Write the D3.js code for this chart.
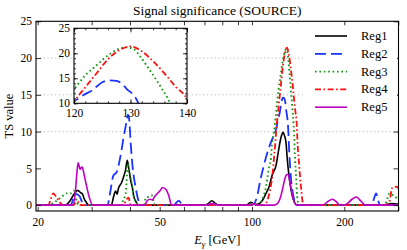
<!DOCTYPE html>
<html><head><meta charset="utf-8">
<script src="https://cdn.jsdelivr.net/npm/d3@7"></script>
<style>
body{margin:0;background:#fff;}
svg{display:block;font-family:"Liberation Serif","DejaVu Serif",serif;}
.axis path{display:none;}
.axis line{stroke:#000;stroke-width:0.8;}
.axis text{font-family:"Liberation Serif",serif;font-size:11.5px;fill:#000;}
</style></head>
<body><svg id="c" width="407" height="250"></svg>
<script>
// ---- data ----
const seriesNames = ["Reg1","Reg2","Reg3","Reg4","Reg5"];
const xTickValues = [20,30,40,50,60,70,80,90,100,200,300];
const xTickLabels = [20,50,100,200];
const yTickValues = [0,5,10,15,20,25];
const gridValues = [10,15,20];
const insetXTicks = [120,130,140];
const insetYTicks = [10,15,20,25];

const reg1 = [[19.5,0],[24.6,0],[25.5,0.6],[26.3,1.5],[27.0,2.0],[27.6,1.7],[28.0,1.5],[28.4,0.8],[28.8,0.4],[29.3,0],
 [34.8,0],[35.3,1.0],[35.9,1.9],[36.3,1.5],[36.7,2.3],[37.5,3.0],[38.1,3.8],[38.7,4.8],[39.2,6.1],[39.7,4.8],[40.2,3.4],[40.8,2.2],[41.1,1.3],[41.7,0.6],[42.0,0.3],[42.7,0],
 [70,0],[72,0.2],[74,0.6],[76,0.2],[78,0],[96,0],[99,0.4],[101,0.2],
 [103,0.1],[105.4,0.2],[108,0.6],[111.1,1.6],[113.7,2.5],[116.2,4.0],[119.8,5.4],[122.6,7.9],[124.5,9.3],[126.3,9.9],[127.5,9.5],[129.2,8.4],[130.2,6.5],[132.2,3.8],[134.2,2.0],[137.2,0.5],[140.4,0],
 [270,0],[285,0.2],[302,0.1]];
const reg2 = [[19.5,0],[25.6,0],[26.2,1.0],[26.8,1.5],[27.4,1.2],[28,0.3],[28.5,0],
 [33.8,0],[34.4,1.5],[35.3,4.0],[36.2,4.5],[37.3,6.8],[38.1,9.1],[39.0,11.4],[39.4,12.3],[39.8,11.5],[40.2,8.5],[40.8,5.2],[41.7,2.5],[42.7,0.5],[43.3,0],
 [55.5,0],[57.7,0.6],[59.5,0],
 [100,0],[103.1,0.7],[107,3.8],[111.1,6.5],[115.4,8.6],[118.5,9.7],[120,10.4],[121.6,11.6],[123.2,12.6],[125,14.2],[126.3,14.6],[127.5,14.5],[128.5,13.9],[129.4,12.8],[130.5,11.7],[131.2,10.5],[132.2,7.5],[133.5,4.5],[135.2,2.2],[137,0.9],[139.3,0.3],[141,0],
 [246,0],[250,0.9],[254,1.6],[258,0.6],[261,0],[302,0]];
const reg3 = [[19.5,0],[21.7,0],[22.5,0.3],[23.9,1.1],[24.8,1.6],[25.6,1.6],[26.2,2.0],[26.8,0.5],[27.2,0],
 [37.3,0],[38.1,0.8],[38.7,1.5],[39.0,3.2],[39.3,5.6],[39.9,4.5],[40.5,3.0],[41.1,1.3],[42,0.3],[42.7,0],
 [44.5,0],[45.0,1.0],[45.7,1.1],[47.1,1.3],[48.2,0],
 [97,0],[100,0.3],[103,0],
 [104,0],[107.8,0.7],[111.1,2.5],[113.7,5.2],[115.4,6.5],[116.2,8.2],[118,10.0],[120,12.8],[122,15.6],[124,17.6],[126,19.6],[128,20.9],[129.3,21.2],[130.6,20.8],[131.7,19.4],[133,17.3],[134.5,14.8],[135.5,13.0],[136.6,11.0],[137.2,9.5],[138.3,6.0],[139.3,3.8],[140.4,1.2],[142.5,0],
 [270,0],[274.5,0.5],[280.8,1.6],[287.2,1.4],[296,1.0],[302,0.6]];
const reg4 = [[19.5,0],[21.7,0],[22.0,0.7],[22.5,1.6],[23.0,1.1],[23.7,0.3],[24.2,0],
 [26.2,0],[26.6,0.4],[27.0,0.5],[27.4,0],
 [38,0],[39.0,0.8],[39.6,1.0],[40.2,0],
 [110,0],[112.5,0.8],[114.5,2.0],[116.5,4.0],[118.2,6.8],[119.2,8.6],[120,10.2],[121,11.8],[122,13.2],[124,16.0],[126,18.8],[128,20.6],[130,21.4],[132,20.4],[134,18.4],[136,16.0],[138,13.3],[140,10.8],[141,8.0],[142.5,5.5],[143.5,3.8],[144.7,2.2],[145.8,0.8],[147,0],
 [270,0],[280,0.4],[287.2,2.4],[296,2.5],[302,2.2]];
const reg5 = [[19.5,0],[26.0,0],[26.5,1.5],[26.8,4.0],[27.1,5.75],[27.5,4.9],[27.9,5.2],[28.4,4.0],[28.8,2.8],[29.5,1.0],[30.2,0],
 [44.7,0],[45.5,0.6],[46.5,0.8],[47.3,0.7],[48.2,1.2],[48.9,1.5],[50,1.9],[51.1,2.4],[52.5,2.1],[53.5,1.3],[54.7,0],
 [70,0],[74,0.2],[78,0],[98,0],[101,0.2],[104,0],
 [118,0],[121,0.2],[123.5,0.9],[125.5,2.0],[127.5,3.3],[129,4.0],[130.4,4.2],[132,3.8],[133.5,2.8],[135.2,1.5],[137.2,0.5],[139.3,0.05],[141,0],
 [168,0],[172.1,0.1],[177,0.5],[182.7,0.8],[188,0.5],[192.6,0.05],[200,0],[204.6,0.2],[212,0.8],[218.9,1.1],[226,0.6],[234.3,0],[302,0]];

const seriesData = [reg1,reg2,reg3,reg4,reg5];
const colors = ["#000000","#1a33ff","#119a11","#ff1010","#c000c0"];
const dashes = [null,"11,5","1.6,2.8","6,2.5,1.6,2.5",null];
const widths = [1.6,1.8,1.9,1.8,1.6];

// ---- chart ----
const svg = d3.select("#c");
const L=36,R=398.5,T=21.3,B=211;
const x = d3.scaleLog().domain([19.75,300.5]).range([L,R]);
const y = d3.scaleLinear().domain([-0.8,25]).range([B,T]);

svg.append("defs").append("clipPath").attr("id","clipMain")
  .append("rect").attr("x",L).attr("y",T).attr("width",R-L).attr("height",B-T);

// grid
svg.append("g").selectAll("line").data(gridValues).join("line")
  .attr("x1",L).attr("x2",R).attr("y1",d=>y(d)).attr("y2",d=>y(d))
  .attr("stroke","#a8a8a8").attr("stroke-width",0.8).attr("stroke-dasharray","1.2,2.6");

// lines
const line = d3.line().x(d=>x(d[0])).y(d=>y(d[1])).curve(d3.curveMonotoneX);
const gl = svg.append("g").attr("clip-path","url(#clipMain)");
seriesData.forEach((s,i)=>{
  gl.append("path").datum(s).attr("d",line).attr("fill","none")
    .attr("stroke",colors[i]).attr("stroke-width",widths[i])
    .attr("stroke-dasharray",dashes[i]).attr("stroke-linejoin","round");
});

// axes
const fmtX = d=> xTickLabels.includes(d)? String(d):"";
svg.append("g").attr("class","axis").attr("transform",`translate(0,${B})`)
  .call(d3.axisBottom(x).tickValues(xTickValues).tickFormat(fmtX).tickSize(-4).tickPadding(7));
svg.append("g").attr("class","axis").attr("transform",`translate(0,${T})`)
  .call(d3.axisTop(x).tickValues(xTickValues).tickFormat("").tickSize(-4));
svg.append("g").attr("class","axis").attr("transform",`translate(${L},0)`)
  .call(d3.axisLeft(y).tickValues(yTickValues).tickSize(-5).tickPadding(4));
svg.append("g").attr("class","axis").attr("transform",`translate(${R},0)`)
  .call(d3.axisRight(y).tickValues(yTickValues).tickFormat("").tickSize(-5));
svg.append("rect").attr("x",L).attr("y",T).attr("width",R-L).attr("height",B-T)
  .attr("fill","none").attr("stroke","#000").attr("stroke-width",1.1);

// legend
svg.append("rect").attr("x",303).attr("y",26).attr("width",94).attr("height",91).attr("fill","#fff");
const lg = svg.append("g");
seriesNames.forEach((n,i)=>{
  const yy = 36 + i*17.8;
  lg.append("line").attr("x1",315).attr("x2",347).attr("y1",yy).attr("y2",yy)
    .attr("stroke",colors[i]).attr("stroke-width",widths[i]).attr("stroke-dasharray",dashes[i]);
  lg.append("text").attr("x",361).attr("y",yy+4).attr("font-size","12.5px").text(n);
});

// inset
const IL=74,IR=187,IT=28.3,IB=103.3;
const xi = d3.scaleLinear().domain([120,140]).range([IL,IR]);
const yi = d3.scaleLinear().domain([10,25]).range([IB,IT]);
svg.append("rect").attr("x",IL).attr("y",IT).attr("width",IR-IL).attr("height",IB-IT).attr("fill","#fff");
svg.append("defs").append("clipPath").attr("id","clipInset")
  .append("rect").attr("x",IL).attr("y",IT).attr("width",IR-IL).attr("height",IB-IT);
const lineI = d3.line().x(d=>xi(d[0])).y(d=>yi(d[1])).curve(d3.curveMonotoneX);
const gi = svg.append("g").attr("clip-path","url(#clipInset)");
seriesData.forEach((s,i)=>{
  gi.append("path").datum(s.filter(d=>d[0]>=110&&d[0]<=150)).attr("d",lineI).attr("fill","none")
    .attr("stroke",colors[i]).attr("stroke-width",widths[i])
    .attr("stroke-dasharray",dashes[i]).attr("stroke-linejoin","round");
});
svg.append("g").attr("class","axis").attr("transform",`translate(0,${IB})`)
  .call(d3.axisBottom(xi).tickValues(insetXTicks).tickSize(-4).tickPadding(6));
svg.append("g").attr("class","axis").attr("transform",`translate(0,${IB})`)
  .call(d3.axisBottom(xi).ticks(10).tickFormat("").tickSize(-2));
svg.append("g").attr("class","axis").attr("transform",`translate(0,${IT})`)
  .call(d3.axisTop(xi).ticks(10).tickFormat("").tickSize(-2));
svg.append("g").attr("class","axis").attr("transform",`translate(0,${IT})`)
  .call(d3.axisTop(xi).tickValues(insetXTicks).tickFormat("").tickSize(-4));
svg.append("g").attr("class","axis").attr("transform",`translate(${IL},0)`)
  .call(d3.axisLeft(yi).tickValues(insetYTicks).tickSize(-4).tickPadding(4));
svg.append("g").attr("class","axis").attr("transform",`translate(${IL},0)`)
  .call(d3.axisLeft(yi).ticks(15).tickFormat("").tickSize(-2));
svg.append("g").attr("class","axis").attr("transform",`translate(${IR},0)`)
  .call(d3.axisRight(yi).ticks(15).tickFormat("").tickSize(-2));
svg.append("g").attr("class","axis").attr("transform",`translate(${IR},0)`)
  .call(d3.axisRight(yi).tickValues(insetYTicks).tickFormat("").tickSize(-4));
svg.append("rect").attr("x",IL).attr("y",IT).attr("width",IR-IL).attr("height",IB-IT)
  .attr("fill","none").attr("stroke","#000").attr("stroke-width",1.1);

// titles
svg.append("text").attr("x",(L+R)/2).attr("y",15).attr("text-anchor","middle")
  .attr("font-size","13.5px").text("Signal significance (SOURCE)");
svg.append("text").attr("transform",`translate(13,116) rotate(-90)`).attr("text-anchor","middle")
  .attr("font-size","12.5px").text("TS value");
const xl = svg.append("text").attr("x",(L+R)/2).attr("y",244).attr("text-anchor","middle").attr("font-size","12.5px");
xl.append("tspan").attr("font-style","italic").text("E");
xl.append("tspan").attr("font-style","italic").attr("font-size","9px").attr("dy",2.5).text("γ");
xl.append("tspan").attr("dy",-2.5).text(" [GeV]");
</script></body></html>
